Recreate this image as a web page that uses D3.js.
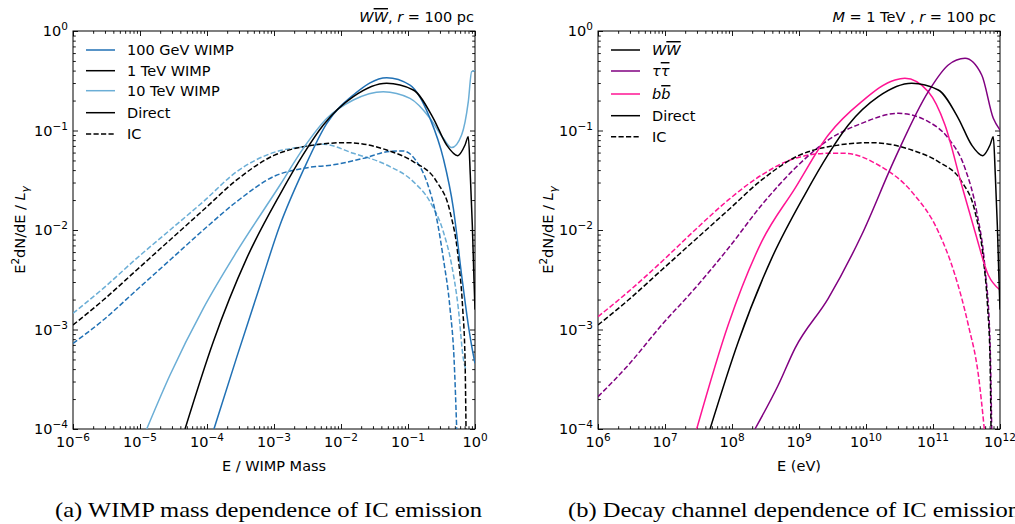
<!DOCTYPE html>
<html>
<head>
<meta charset="utf-8">
<script src="https://cdn.jsdelivr.net/npm/d3@7"></script>
<style>
  body { margin: 0; background: #fff; }
  svg { display: block; }
  text { font-family: "DejaVu Sans", sans-serif; fill: #000; }
  .caption { font-family: "Liberation Serif", "DejaVu Serif", serif; }
</style>
</head>
<body>
<svg id="fig" width="1015" height="524"></svg>
<script>
// Spectra sampled as [log10(x), log10(E^2 dN/dE / L_gamma)].
// Panel (a): x = E / WIMP mass.  Panel (b): x = E in eV.

// (a) inverse-Compton spectra
const ic100GeV = [[-6,-3.14],[-5.548,-2.905],[-5.05,-2.603],[-4.552,-2.302],[-4.055,-2.0],[-3.557,-1.715],
  [-2.98,-1.455],[-2.563,-1.38],[-2.065,-1.34],[-1.667,-1.28],[-1.269,-1.21],[-1.07,-1.206],[-0.87,-1.313],
  [-0.72,-1.514],[-0.572,-1.883],[-0.473,-2.285],[-0.373,-2.787],[-0.313,-3.29],[-0.273,-4.0]];
const ic1TeV = [[-6,-2.955],[-5.548,-2.704],[-5.05,-2.402],[-4.552,-2.1],[-4.055,-1.799],[-3.557,-1.497],
  [-3.0,-1.25],[-2.563,-1.163],[-1.915,-1.122],[-1.318,-1.196],[-0.921,-1.313],[-0.572,-1.514],
  [-0.373,-1.816],[-0.249,-2.285],[-0.184,-2.787],[-0.149,-3.29],[-0.134,-4.0]];
const ic10TeV = [[-6,-2.837],[-5.548,-2.586],[-5.05,-2.285],[-4.552,-2.0],[-4.055,-1.715],[-3.557,-1.414],
  [-3.0,-1.22],[-2.563,-1.163],[-2.264,-1.139],[-1.816,-1.229],[-1.318,-1.347],[-0.921,-1.514],
  [-0.672,-1.715],[-0.473,-2.017],[-0.348,-2.352],[-0.249,-2.787],[-0.175,-3.29],[-0.134,-3.41]];

// (a) direct (prompt) spectra
const direct100GeV = [[-3.896,-4],[-3.557,-3.28],[-3.209,-2.56],[-2.91,-1.95],[-2.563,-1.40],
  [-2.214,-0.93],[-1.816,-0.643],[-1.318,-0.469],[-0.97,-0.543],[-0.672,-0.877],[-0.473,-1.28],
  [-0.323,-1.782],[-0.2,-2.452],[-0.1,-2.955],[-0.015,-3.29],[0,-3.34]];
const direct1TeV = [[-4.328,-4],[-3.906,-3.122],[-3.408,-2.285],[-2.91,-1.641],[-2.563,-1.24],
  [-2.264,-0.945],[-1.816,-0.66],[-1.318,-0.526],[-0.921,-0.593],[-0.622,-0.877],[-0.423,-1.146],
  [-0.259,-1.253],[-0.149,-1.146],[-0.1,-1.062],[-0.07,-1.45],[-0.04,-1.95],[-0.015,-2.5],[0,-2.8]];
const direct10TeV = [[-4.9,-4],[-4.552,-3.457],[-4.055,-2.787],[-3.557,-2.218],[-2.91,-1.548],
  [-2.563,-1.18],[-2.214,-0.88],[-1.816,-0.693],[-1.369,-0.61],[-0.97,-0.677],[-0.672,-0.877],
  [-0.473,-1.078],[-0.348,-1.172],[-0.2,-1.045],[-0.1,-0.71],[-0.05,-0.409],[0,-0.40]];

// (b) decay channels for a 1 TeV WIMP (WW reuses the 1 TeV curves of panel a)
const massEV = 1e12;
const icTau = [[6,-3.675],[6.453,-3.357],[6.95,-2.955],[7.448,-2.586],[7.945,-2.184],[8.443,-1.749],
  [8.94,-1.38],[9.437,-1.095],[9.935,-0.928],[10.482,-0.827],[10.93,-0.911],[11.228,-1.078],
  [11.478,-1.38],[11.652,-1.816],[11.776,-2.385],[11.851,-3.122],[11.876,-4]];
const icBB = [[6,-2.871],[6.453,-2.62],[6.95,-2.319],[7.448,-2.0],[7.945,-1.698],[8.443,-1.447],
  [8.94,-1.28],[9.437,-1.229],[9.687,-1.229],[10.184,-1.347],[10.682,-1.615],[11.08,-2.017],
  [11.328,-2.452],[11.527,-2.955],[11.677,-3.457],[11.766,-4]];
const directTau = [[8.343,-4],[8.691,-3.558],[8.94,-3.189],[9.437,-2.687],[9.935,-2.05],[10.433,-1.28],
  [10.93,-0.61],[11.228,-0.342],[11.478,-0.275],[11.727,-0.442],[11.9,-0.877],[12,-0.995]];
const directBB = [[7.473,-4],[7.945,-2.95],[8.443,-2.117],[8.94,-1.581],[9.437,-1.045],[9.935,-0.71],
  [10.433,-0.492],[10.58,-0.476],[10.93,-0.61],[11.179,-0.945],[11.428,-1.548],[11.627,-2.017],
  [11.825,-2.452],[12,-2.603]];

// Axis decades
const xDecadesA = [-6, -5, -4, -3, -2, -1, 0];
const xDecadesB = [6, 7, 8, 9, 10, 11, 12];
const yDecades = [-4, -3, -2, -1, 0];

const C = { dark: "#2171b5", light: "#6baed6", black: "#000", purple: "#800080", pink: "#ff1493" };
const DASH = "5.2,2.3";

const svg = d3.select("#fig");
const plotTop = 31, plotBottom = 429;
const y = d3.scaleLog().domain([1e-4, 1]).range([plotBottom, plotTop]);
const xA = d3.scaleLog().domain([1e-6, 1]).range([73, 475]);
const xB = d3.scaleLog().domain([1e6, 1e12]).range([598, 1000]);

function minors(decades) {
  const out = [];
  for (let i = 0; i < decades.length - 1; i++)
    for (let k = 2; k <= 9; k++) out.push(k * Math.pow(10, decades[i]));
  return out;
}

function powLabel(text, e, supDy) {
  text.append("tspan").text("10");
  text.append("tspan").attr("dy", supDy).attr("font-size", 10.5)
    .text(e < 0 ? "\u2212" + (-e) : String(e));
}

function panel(x, xDecades, id) {
  const [x0, x1] = x.range();
  const g = svg.append("g");
  g.append("clipPath").attr("id", id).append("rect")
    .attr("x", x0).attr("y", plotTop).attr("width", x1 - x0).attr("height", plotBottom - plotTop);

  const majX = xDecades.map(e => Math.pow(10, e));
  const majY = yDecades.map(e => Math.pow(10, e));
  const xMin = minors(xDecades), yMin = minors(yDecades);

  const axes = [
    [d3.axisBottom(x), `translate(0,${plotBottom})`, majX, xMin],
    [d3.axisTop(x), `translate(0,${plotTop})`, majX, xMin],
    [d3.axisLeft(y), `translate(${x0},0)`, majY, yMin],
    [d3.axisRight(y), `translate(${x1},0)`, majY, yMin]
  ];
  axes.forEach(([ax, tr, maj, mn]) => {
    const a1 = g.append("g").attr("transform", tr)
      .call(ax.tickValues(maj).tickSizeInner(-5).tickSizeOuter(0).tickFormat(""));
    const a2 = g.append("g").attr("transform", tr)
      .call(ax.tickValues(mn).tickSizeInner(-2.8).tickSizeOuter(0).tickFormat(""));
    [a1, a2].forEach(a => { a.select(".domain").remove(); a.selectAll("line").attr("stroke-width", 0.9); });
  });

  // tick labels
  xDecades.forEach(e => {
    const t = g.append("text").attr("x", x(Math.pow(10, e))).attr("y", 447)
      .attr("text-anchor", "middle").attr("font-size", 14.5);
    powLabel(t, e, -6);
  });
  yDecades.forEach(e => {
    const t = g.append("text").attr("x", x0 - 5).attr("y", y(Math.pow(10, e)) + 5)
      .attr("text-anchor", "end").attr("font-size", 14.5);
    powLabel(t, e, -6);
  });

  g.append("rect").attr("x", x0).attr("y", plotTop).attr("width", x1 - x0).attr("height", plotBottom - plotTop)
    .attr("fill", "none").attr("stroke", "#000").attr("stroke-width", 1);

  const plot = g.append("g").attr("clip-path", `url(#${id})`);
  return { g, plot, x0, x1 };
}

function drawCurve(plot, x, pts, color, dashed, shift = 0) {
  const line = d3.line()
    .x(d => x(Math.pow(10, d[0] + shift)))
    .y(d => y(Math.pow(10, d[1])))
    .curve(d3.curveMonotoneX);
  plot.append("path").attr("d", line(pts)).attr("fill", "none")
    .attr("stroke", color).attr("stroke-width", 1.5)
    .attr("stroke-dasharray", dashed ? DASH : null);
}

function yLabel(g, cx) {
  const t = g.append("text").attr("transform", `translate(${cx},230) rotate(-90)`)
    .attr("text-anchor", "middle").attr("font-size", 14.5);
  t.append("tspan").text("E");
  t.append("tspan").attr("dy", -6).attr("font-size", 10.5).text("2");
  t.append("tspan").attr("dy", 6).text("dN/dE / ");
  t.append("tspan").attr("font-style", "italic").text("L");
  t.append("tspan").attr("dy", 4).attr("font-size", 10.5).attr("font-style", "italic").text("\u03b3");
}

function legend(g, x0, rows, ys) {
  rows.forEach((r, i) => {
    g.append("line").attr("x1", x0).attr("x2", x0 + 29).attr("y1", ys[i]).attr("y2", ys[i])
      .attr("stroke", r.color).attr("stroke-width", 1.5)
      .attr("stroke-dasharray", r.dashed ? DASH : null);
    const t = g.append("text").attr("x", x0 + 41).attr("y", ys[i] + 5).attr("font-size", 14.5);
    r.label(t);
  });
}
const plain = s => t => t.text(s);
const pair = (a, b) => t => {
  t.append("tspan").attr("font-style", "italic").text(a);
  t.append("tspan").attr("font-style", "italic").style("text-decoration", "overline").text(b);
};

// ---- Panel (a): WIMP mass dependence ----
const A = panel(xA, xDecadesA, "clipA");
drawCurve(A.plot, xA, ic10TeV, C.light, true);
drawCurve(A.plot, xA, ic100GeV, C.dark, true);
drawCurve(A.plot, xA, ic1TeV, C.black, true);
drawCurve(A.plot, xA, direct10TeV, C.light, false);
drawCurve(A.plot, xA, direct100GeV, C.dark, false);
drawCurve(A.plot, xA, direct1TeV, C.black, false);

legend(A.g, 86, [
  { label: plain("100 GeV WIMP"), color: C.dark },
  { label: plain("1 TeV WIMP"), color: C.black },
  { label: plain("10 TeV WIMP"), color: C.light },
  { label: plain("Direct"), color: C.black },
  { label: plain("IC"), color: C.black, dashed: true }
], [50, 70.7, 90.7, 112.7, 134]);

{
  const t = A.g.append("text").attr("x", 474).attr("y", 22).attr("text-anchor", "end").attr("font-size", 14.5);
  pair("W", "W")(t);
  t.append("tspan").text(", ");
  t.append("tspan").attr("font-style", "italic").text("r");
  t.append("tspan").text(" = 100 pc");
}
yLabel(A.g, 25);
A.g.append("text").attr("x", 274).attr("y", 471).attr("text-anchor", "middle").attr("font-size", 14.5)
  .text("E / WIMP Mass");

// ---- Panel (b): decay channel dependence ----
const B = panel(xB, xDecadesB, "clipB");
drawCurve(B.plot, xB, icBB, C.pink, true);
drawCurve(B.plot, xB, icTau, C.purple, true);
drawCurve(B.plot, xB, ic1TeV, C.black, true, Math.log10(massEV));
drawCurve(B.plot, xB, directBB, C.pink, false);
drawCurve(B.plot, xB, directTau, C.purple, false);
drawCurve(B.plot, xB, direct1TeV, C.black, false, Math.log10(massEV));

legend(B.g, 611, [
  { label: pair("W", "W"), color: C.black },
  { label: pair("\u03c4", "\u03c4"), color: C.purple },
  { label: pair("b", "b"), color: C.pink },
  { label: plain("Direct"), color: C.black },
  { label: plain("IC"), color: C.black, dashed: true }
], [50, 71, 94, 115.7, 136.7]);

{
  const t = B.g.append("text").attr("x", 996).attr("y", 22).attr("text-anchor", "end").attr("font-size", 14.5);
  t.append("tspan").attr("font-style", "italic").text("M");
  t.append("tspan").text(" = 1 TeV , ");
  t.append("tspan").attr("font-style", "italic").text("r");
  t.append("tspan").text(" = 100 pc");
}
yLabel(B.g, 553);
B.g.append("text").attr("x", 799).attr("y", 471).attr("text-anchor", "middle").attr("font-size", 14.5)
  .text("E (eV)");

// ---- Sub-figure captions (stretched to the width of the LaTeX-set originals) ----
svg.append("text").attr("class", "caption").attr("x", 55).attr("y", 517)
  .attr("font-size", 21).attr("textLength", 427).attr("lengthAdjust", "spacingAndGlyphs")
  .text("(a) WIMP mass dependence of IC emission");
svg.append("text").attr("class", "caption").attr("x", 568).attr("y", 517)
  .attr("font-size", 21).attr("textLength", 452).attr("lengthAdjust", "spacingAndGlyphs")
  .text("(b) Decay channel dependence of IC emission");
</script>
</body>
</html>
